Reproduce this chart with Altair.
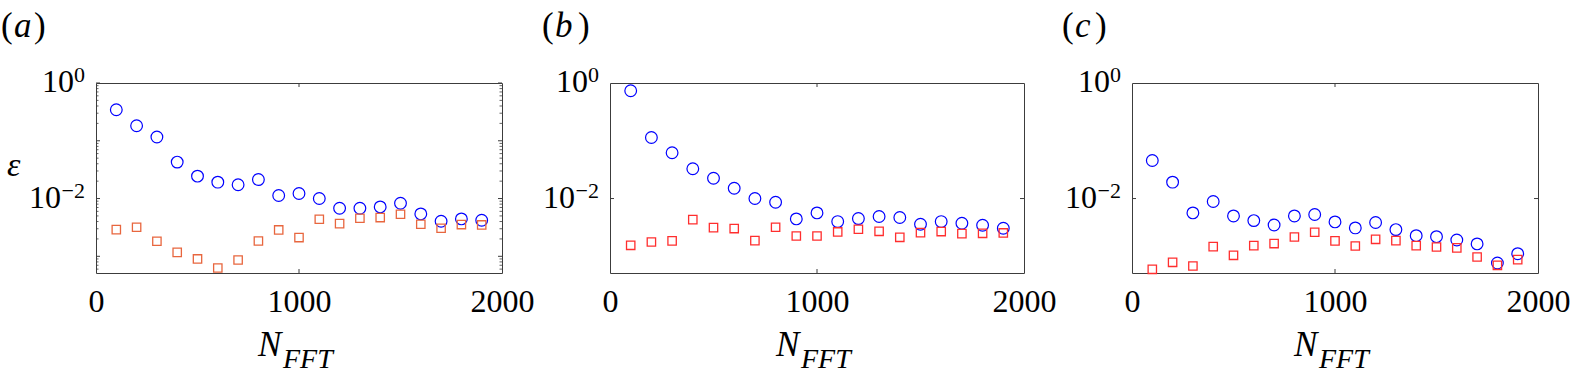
import altair as alt
import pandas as pd

# ---------------- data ----------------
N_FFT = [100, 200, 300, 400, 500, 600, 700, 800, 900, 1000,
         1100, 1200, 1300, 1400, 1500, 1600, 1700, 1800, 1900]

a_circle = [0.345, 0.182, 0.116, 0.0427, 0.0244, 0.0192, 0.0173, 0.0213, 0.0113, 0.0122,
            0.0100, 0.0068, 0.0068, 0.00717, 0.0083, 0.00542, 0.00404, 0.00444, 0.00421]
a_square = [0.0029, 0.00318, 0.00182, 0.00117, 0.0009, 0.000628, 0.000864, 0.00184, 0.00286, 0.00211,
            0.00438, 0.00368, 0.00456, 0.00468, 0.00535, 0.00359, 0.00306, 0.00354, 0.00349]

b_circle = [0.736, 0.114, 0.062, 0.0327, 0.0225, 0.0151, 0.0100, 0.00863, 0.00444, 0.00564,
            0.00399, 0.0045, 0.00488, 0.00469, 0.00359, 0.00399, 0.00373, 0.00345, 0.00306]
b_square = [0.00155, 0.00177, 0.00185, 0.00432, 0.00314, 0.00302, 0.00187, 0.00318, 0.00225, 0.00225,
            0.00264, 0.00294, 0.00271, 0.00213, 0.00257, 0.00268, 0.00247, 0.0025, 0.00254]

c_circle = [0.0456, 0.0192, 0.00564, 0.00887, 0.0050, 0.00415, 0.00349, 0.0050, 0.00528, 0.00394,
            0.0031, 0.00384, 0.0029, 0.00228, 0.00219, 0.00192, 0.00164, 0.000766, 0.00111]
c_square = [0.000595, 0.000787, 0.00068, 0.00147, 0.00104, 0.00153, 0.00166, 0.00216, 0.00261, 0.00185,
            0.00151, 0.00197, 0.00187, 0.00153, 0.00145, 0.0014, 0.000973, 0.000698, 0.000875]

x_tick_labels = [0, 1000, 2000]
y_label_values = [1.0, 0.01]
y_label_exps = ["0", "\u22122"]
a_major_ticks = [1e-3, 1e-2, 1e-1, 1.0]
a_minor_ticks = [k * 10.0 ** e for e in (-4, -3, -2, -1) for k in range(2, 10)]
bc_major_ticks = [1e-2]
panel_letters = ["a", "b", "c"]

# ---------------- style ----------------
FONT = "Liberation Serif"
YMIN = 10 ** -3.289
H = 190
WIDTHS = [406, 414, 406]
BLUE = "#0000FF"
ORANGE = "#E8663E"
RED = "#FF2E2E"
AXIS = "#3c3c3c"

yscale = alt.Scale(type="log", domain=[YMIN, 1.0], nice=False)


def xenc():
    return alt.X("n:Q", scale=alt.Scale(domain=[0, 2000], nice=False),
                 axis=alt.Axis(values=x_tick_labels, format="d", title=None, domain=False,
                               ticks=False, grid=False, labelFont=FONT, labelFontSize=32,
                               labelPadding=13, labelColor="black", labelFlush=False))


def yenc(field):
    return alt.Y(field, scale=yscale, axis=None)


def text_layer(txt, x, y, size, italic=False, align="left"):
    kw = dict(align=align, baseline="alphabetic", font=FONT, fontSize=size, color="black")
    if italic:
        kw["fontStyle"] = "italic"
    return alt.Chart(pd.DataFrame({"t": [txt]})).mark_text(**kw).encode(
        x=alt.value(x), y=alt.value(y), text="t:N")


def panel(i, circ, sq, sqcolor, major, minor, letter_offsets, show_eps):
    w = WIDTHS[i]
    df = pd.DataFrame({"n": N_FFT, "circ": circ, "sq": sq})
    base = alt.Chart(df)
    layers = []
    layers.append(base.mark_point(shape="circle", filled=False, size=137, strokeWidth=1.2,
                                  color=BLUE, opacity=1).encode(x=xenc(), y=yenc("circ:Q")))
    layers.append(base.mark_point(shape="square", filled=False, size=70, strokeWidth=1.3,
                                  color=sqcolor, opacity=1).encode(x=xenc(), y=yenc("sq:Q")))

    # x ticks (inward) at 1000
    xt = alt.Chart(pd.DataFrame({"n": [1000]}))
    layers.append(xt.mark_rule(color=AXIS, strokeWidth=1).encode(
        x=xenc(), y=alt.value(0), y2=alt.value(4)))
    layers.append(xt.mark_rule(color=AXIS, strokeWidth=1).encode(
        x=xenc(), y=alt.value(H), y2=alt.value(H - 4)))

    # y ticks (inward), left and right
    maj = alt.Chart(pd.DataFrame({"v": major}))
    layers.append(maj.mark_rule(color=AXIS, strokeWidth=1).encode(
        y=yenc("v:Q"), x=alt.value(0), x2=alt.value(4)))
    layers.append(maj.mark_rule(color=AXIS, strokeWidth=1).encode(
        y=yenc("v:Q"), x=alt.value(w), x2=alt.value(w - 4)))
    if minor:
        mnr = alt.Chart(pd.DataFrame({"v": [m for m in minor if m >= YMIN]}))
        layers.append(mnr.mark_rule(color=AXIS, strokeWidth=0.8).encode(
            y=yenc("v:Q"), x=alt.value(0), x2=alt.value(2.5)))
        layers.append(mnr.mark_rule(color=AXIS, strokeWidth=0.8).encode(
            y=yenc("v:Q"), x=alt.value(w), x2=alt.value(w - 2.5)))

    # y tick labels 10^0, 10^-2 drawn as base + exponent
    exp_width = {"0": 11, "\u22122": 24}
    for v, e in zip(y_label_values, y_label_exps):
        lab = alt.Chart(pd.DataFrame({"v": [v], "b": ["10"], "e": [e]}))
        layers.append(lab.mark_text(align="right", baseline="alphabetic", dy=9, font=FONT,
                                    fontSize=32, color="black").encode(
            y=yenc("v:Q"), x=alt.value(-11 - exp_width[e]), text="b:N"))
        layers.append(lab.mark_text(align="right", baseline="alphabetic", dy=-1, font=FONT,
                                    fontSize=22, color="black").encode(
            y=yenc("v:Q"), x=alt.value(-11), text="e:N"))

    # x axis title N_FFT
    layers.append(text_layer("N", w / 2 - 41, H + 83, 35, italic=True))
    layers.append(text_layer("FFT", w / 2 - 16, H + 95, 28, italic=True))

    # epsilon label
    if show_eps:
        layers.append(text_layer("\u03b5", -89, 93, 34, italic=True))

    # panel label (a)/(b)/(c)
    px, lx, rx = letter_offsets
    layers.append(text_layer("(", px, -46, 35))
    layers.append(text_layer(panel_letters[i], lx, -46, 35, italic=True))
    layers.append(text_layer(")", rx, -46, 35))

    return alt.layer(*layers).properties(width=w, height=H)


pa = panel(0, a_circle, a_square, ORANGE, a_major_ticks, a_minor_ticks, (-95, -82, -62), True)
pb = panel(1, b_circle, b_square, RED, bc_major_ticks, None, (-68, -55, -32), False)
pc = panel(2, c_circle, c_square, RED, bc_major_ticks, None, (-70, -57, -37), False)

chart = (
    alt.hconcat(pa, pb, pc, spacing=108, bounds="flush")
    .properties(padding={"left": 0, "top": 8, "right": 0, "bottom": 0}, background="white")
    .configure(font=FONT)
    .configure_axis(labelFont=FONT, titleFont=FONT)
    .configure_text(font=FONT)
    .configure_view(stroke=AXIS, strokeWidth=1)
)

chart.save("out.html", embed_options={"renderer": "svg", "actions": False})
